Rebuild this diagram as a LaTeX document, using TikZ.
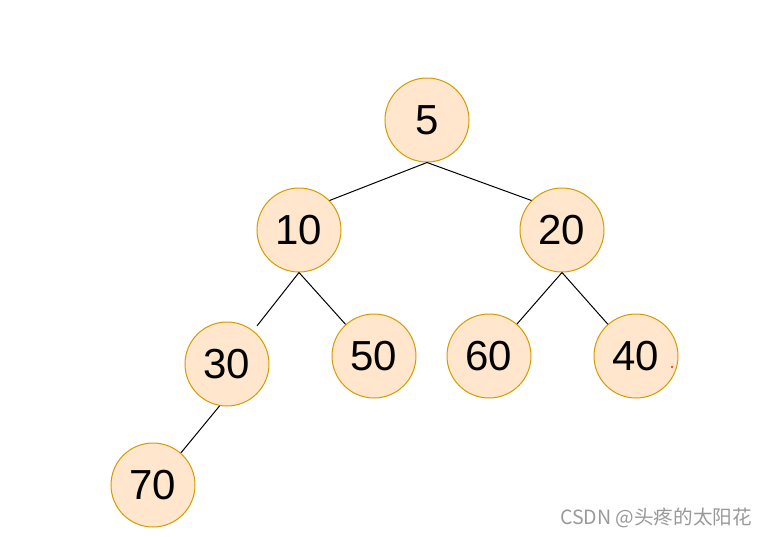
\documentclass[tikz,border=0pt]{standalone}
\usepackage{fontspec}
\setmainfont{Liberation Sans}
\newfontfamily\cjk{Noto Sans CJK SC}
\usetikzlibrary{positioning}
\definecolor{heapfill}{HTML}{FFE6CC}
\definecolor{heapline}{HTML}{D79B00}
\tikzset{
  heapnode/.style={circle, draw=heapline, fill=heapfill, line width=0.5pt,
    minimum size=42pt, inner sep=0pt, font=\fontsize{21}{24}\selectfont},
  heapedge/.style={draw=black, line width=0.5pt}
}

\begin{document}
\begin{tikzpicture}[x=0.5pt, y=-0.5pt]
					\useasboundingbox (0,0) rectangle (768,537);

					\node[heapnode] (n5) at (427,120) {5};
					\node[heapnode] (n10) at (299,230) {10};
					\node[heapnode] (n20) at (562,230) {20};
					\node[heapnode] (n30) at (227,364) {30};
					\node[heapnode] (n50) at (374,356) {50};
					\node[heapnode] (n60) at (489,356) {60};
					\node[heapnode] (n40) at (636,356) {40};
					\node[heapnode] (n70) at (153,485) {70};

					\draw[heapedge] (n5.south) -- (n10.44);
					\draw[heapedge] (n5.south) -- (n20.136);
					\draw[heapedge, shorten >=3pt] (n10.south) -- (n30);
					\draw[heapedge] (n10.south) -- (n50);
					\draw[heapedge] (n20.south) -- (n60);
					\draw[heapedge] (n20.south) -- (n40);
					\draw[heapedge] (n30.260) -- (n70.49);

					\fill[red!80!orange] (672,367) circle (0.6pt);

					\node[text=black!40, font=\cjk\fontsize{9.8}{11}\selectfont] (mark) at (656,518) {CSDN @头疼的太阳花};

				\end{tikzpicture}
\end{document}
